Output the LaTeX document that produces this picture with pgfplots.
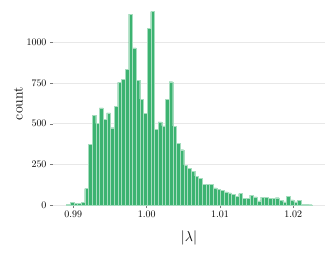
\documentclass[border=0pt]{standalone}
\usepackage{pgfplots}
\pgfplotsset{compat=1.18}
\usepackage{pgfplotstable}
\definecolor{bargreen}{RGB}{60,179,113}
\definecolor{gridgray}{RGB}{232,232,232}
\definecolor{tickgray}{RGB}{120,120,120}
\pgfplotstableread{
x y
0.98905 5
0.98955 17
0.99005 12
0.99055 12
0.99105 18
0.99155 101
0.99205 373
0.99255 550
0.99305 501
0.99355 598
0.99405 528
0.99455 567
0.99505 476
0.99555 606
0.99605 755
0.99655 773
0.99705 835
0.99755 1175
0.99805 967
0.99855 767
0.99905 652
0.99955 565
1.00005 1089
1.00055 1190
1.00105 466
1.00155 511
1.00205 487
1.00255 652
1.00305 759
1.00355 485
1.00405 381
1.00455 340
1.00505 245
1.00555 227
1.00605 206
1.00655 177
1.00705 165
1.00755 126
1.00805 126
1.00855 126
1.00905 105
1.00955 95
1.01005 90
1.01055 80
1.01105 75
1.01155 65
1.01205 55
1.01255 70
1.01305 40
1.01355 42
1.01405 60
1.01455 50
1.01505 25
1.01555 48
1.01605 46
1.01655 42
1.01705 42
1.01755 45
1.01805 30
1.01855 20
1.01905 52
1.01955 32
1.02005 20
1.02055 30
1.02105 5
1.02155 5
1.02205 2
1.02255 2
}\histdata
\begin{document}
\begin{tikzpicture}
\begin{axis}[
  name=main,
  scale only axis,
  width=272bp, height=203bp,
  xmin=0.98723, xmax=1.02432,
  ymin=0, ymax=1249,
  axis line style={draw=none},
  xtick={0.99,1.00,1.01,1.02},
  ytick={0,250,500,750,1000},
  xtick pos=lower, ytick pos=left,
  tick align=outside,
  major tick length=3bp,
  tick style={tickgray, line width=0.4pt},
  xticklabel style={/pgf/number format/fixed, /pgf/number format/fixed zerofill, /pgf/number format/precision=2},
  scaled x ticks=false,
  yticklabel style={/pgf/number format/1000 sep={}},
  ymajorgrids,
  grid style={gridgray, line width=0.6pt},
  tick label style={font=\fontsize{10}{12}\selectfont},
  xlabel={$|\lambda|$},
  ylabel={count},
  label style={font=\fontsize{14}{16}\selectfont},
  xlabel style={yshift=-6bp},
  ylabel style={yshift=-3bp},
]
\addplot[ybar interval, fill=bargreen, draw=white!55!bargreen, line width=0.25bp] table[x=x,y=y] {\histdata};
\end{axis}
\pgfresetboundingbox
\useasboundingbox ([xshift=-53bp,yshift=-48bp]main.south west) rectangle ([xshift=7bp,yshift=2bp]main.north east);
\end{tikzpicture}
\end{document}
